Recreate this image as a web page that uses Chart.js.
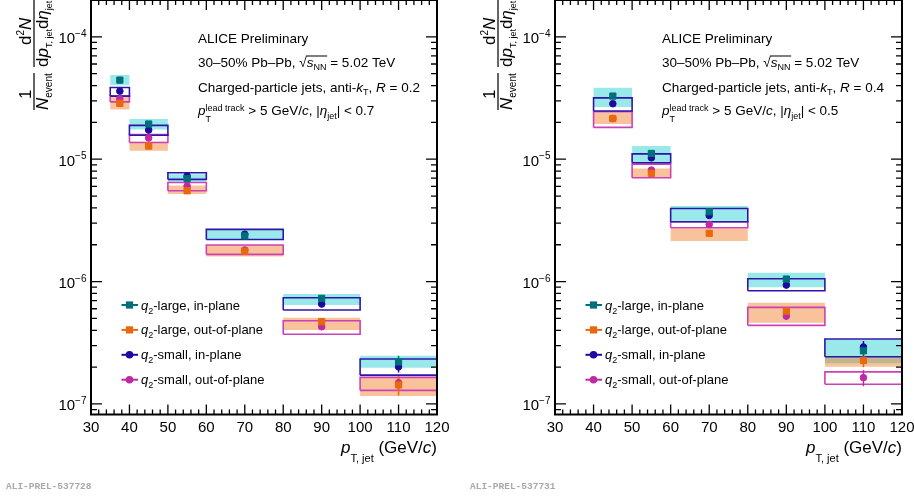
<!DOCTYPE html>
<html>
<head>
<meta charset="utf-8">
<script src="https://cdn.jsdelivr.net/npm/chart.js@4.4.1/dist/chart.umd.min.js"></script>
<style>
  html, body { margin: 0; padding: 0; background: #fff; }
  #wrap { position: relative; width: 914px; height: 499px; overflow: hidden; }
  canvas { position: absolute; top: 0; }
  #c02 { left: 0; }
  #c04 { left: 457px; }
</style>
</head>
<body>
<div id="wrap">
  <canvas id="c02" width="457" height="499"></canvas>
  <canvas id="c04" width="457" height="499"></canvas>
</div>
<script>
// jet pT bins (GeV/c)
var binLow02 = [35, 40, 50, 60, 80, 100];
var binHigh02 = [40, 50, 60, 80, 100, 120];
var ptCenter02 = [37.5, 45, 55, 70, 90, 110];
var binLow04 = [40, 50, 60, 80, 100];
var binHigh04 = [50, 60, 80, 100, 120];
var ptCenter04 = [45, 55, 70, 90, 110];

// R = 0.2 : values, systematic box low / high, relative stat. error
var largeIn02 = [4.43e-5, 1.94e-5, 6.95e-6, 2.36e-6, 7.29e-7, 2.21e-7];
var largeIn02Lo = [4.03e-5, 1.75e-5, 6.55e-6, 2.21e-6, 6.43e-7, 1.98e-7];
var largeIn02Hi = [4.87e-5, 2.13e-5, 7.55e-6, 2.64e-6, 7.91e-7, 2.48e-7];
var largeIn02Stat = [0.02, 0.02, 0.02, 0.03, 0.05, 0.12];

var largeOut02 = [2.86e-5, 1.28e-5, 5.52e-6, 1.77e-6, 4.70e-7, 1.43e-7];
var largeOut02Lo = [2.55e-5, 1.17e-5, 5.19e-6, 1.60e-6, 4.02e-7, 1.16e-7];
var largeOut02Hi = [3.24e-5, 1.39e-5, 6.11e-6, 1.99e-6, 5.06e-7, 1.67e-7];
var largeOut02Stat = [0.02, 0.02, 0.02, 0.03, 0.07, 0.18];

var smallIn02 = [3.60e-5, 1.73e-5, 7.28e-6, 2.44e-6, 6.55e-7, 2.01e-7];
var smallIn02Lo = [3.28e-5, 1.57e-5, 6.84e-6, 2.21e-6, 5.85e-7, 1.72e-7];
var smallIn02Hi = [3.86e-5, 1.89e-5, 7.74e-6, 2.67e-6, 7.38e-7, 2.33e-7];
var smallIn02Stat = [0.02, 0.02, 0.02, 0.03, 0.05, 0.10];

var smallOut02 = [3.11e-5, 1.49e-5, 6.03e-6, 1.81e-6, 4.27e-7, 1.49e-7];
var smallOut02Lo = [2.94e-5, 1.37e-5, 5.52e-6, 1.67e-6, 3.71e-7, 1.29e-7];
var smallOut02Hi = [3.28e-5, 1.59e-5, 6.46e-6, 1.99e-6, 4.79e-7, 1.65e-7];
var smallOut02Stat = [0.02, 0.02, 0.02, 0.03, 0.06, 0.12];

// R = 0.4
var largeIn04 = [3.28e-5, 1.115e-5, 3.72e-6, 1.048e-6, 2.72e-7];
var largeIn04Lo = [2.67e-5, 9.35e-6, 3.14e-6, 8.97e-7, 2.15e-7];
var largeIn04Hi = [3.83e-5, 1.28e-5, 4.14e-6, 1.18e-6, 3.37e-7];
var largeIn04Stat = [0.02, 0.02, 0.03, 0.05, 0.12];

var largeOut04 = [2.15e-5, 7.66e-6, 2.48e-6, 5.74e-7, 2.27e-7];
var largeOut04Lo = [1.94e-5, 7.05e-6, 2.15e-6, 4.61e-7, 2.01e-7];
var largeOut04Hi = [2.41e-5, 8.41e-6, 2.72e-6, 6.71e-7, 2.43e-7];
var largeOut04Stat = [0.02, 0.02, 0.03, 0.06, 0.12];

var smallIn04 = [2.84e-5, 1.026e-5, 3.47e-6, 9.36e-7, 2.92e-7];
var smallIn04Lo = [2.48e-5, 9.35e-6, 3.08e-6, 8.41e-7, 2.43e-7];
var smallIn04Hi = [3.17e-5, 1.106e-5, 3.96e-6, 1.054e-6, 3.39e-7];
var smallIn04Stat = [0.02, 0.02, 0.03, 0.05, 0.12];

var smallOut04 = [2.15e-5, 8.15e-6, 2.93e-6, 5.22e-7, 1.64e-7];
var smallOut04Lo = [1.82e-5, 7.05e-6, 2.75e-6, 4.39e-7, 1.45e-7];
var smallOut04Hi = [2.44e-5, 9.12e-6, 3.08e-6, 6.15e-7, 1.83e-7];
var smallOut04Stat = [0.02, 0.02, 0.03, 0.07, 0.15];

// axes
var xTicks = [30, 40, 50, 60, 70, 80, 90, 100, 110, 120];
var yDecades = [-7, -6, -5, -4];
var legendNames = ['-large, in-plane', '-large, out-of-plane', '-small, in-plane', '-small, out-of-plane'];

var FF = '"Liberation Sans", Arial, Helvetica, sans-serif';
function fnt(size, italic) {
    return (italic ? 'italic ' : '') + size + 'px ' + FF;
}

// draws text pieces one after another: [text, font, dy]
function rich(ctx, x, y, parts, align) {
    var w = 0;
    parts.forEach(function (p) { ctx.font = p[1]; w += ctx.measureText(p[0]).width; });
    var cx = align === 'right' ? x - w : (align === 'center' ? x - w / 2 : x);
    var start = cx;
    ctx.textAlign = 'left';
    parts.forEach(function (p) {
        ctx.font = p[1];
        ctx.fillText(p[0], cx, y + (p[2] || 0));
        cx += ctx.measureText(p[0]).width;
    });
    return {start: start, end: cx};
}

var styles = [
    {color: '#006f7a', point: 'rect', radius: 4.4, box: 'fill', boxColor: 'rgba(0,200,205,0.40)', order: 5},
    {color: '#e8690c', point: 'rect', radius: 4.4, box: 'fill', boxColor: 'rgba(240,120,30,0.45)', order: 4},
    {color: '#1f08a0', point: 'circle', radius: 3.3, box: 'line', boxColor: '#2c16aa', order: 3},
    {color: '#bf2aa3', point: 'circle', radius: 3.3, box: 'line', boxColor: '#cc40b8', order: 3}
];

function buildDatasets(xc, xl, xh, series) {
    var ds = [];
    series.forEach(function (s, k) {
        var st = styles[k];
        var box = [], err = [], pts = [];
        for (var i = 0; i < xc.length; i++) {
            if (st.box === 'fill') {
                box.push({x: xl[i], y: s.hi[i]}, {x: xl[i], y: s.lo[i]}, {x: xh[i], y: s.lo[i]}, {x: xh[i], y: s.hi[i]}, {x: xh[i], y: null});
            } else {
                box.push({x: xl[i], y: s.lo[i]}, {x: xh[i], y: s.lo[i]}, {x: xh[i], y: s.hi[i]}, {x: xl[i], y: s.hi[i]}, {x: xl[i], y: s.lo[i]}, {x: xl[i], y: null});
            }
            err.push({x: xc[i], y: s.val[i] * (1 - s.stat[i])}, {x: xc[i], y: s.val[i] * (1 + s.stat[i])}, {x: xc[i], y: null});
            pts.push({x: xc[i], y: s.val[i]});
        }
        if (st.box === 'fill') {
            ds.push({type: 'line', data: box, showLine: true, spanGaps: false, pointRadius: 0, fill: 'shape',
                backgroundColor: st.boxColor, borderColor: 'rgba(0,0,0,0)', borderWidth: 1, order: st.order});
        } else {
            ds.push({type: 'line', data: box, showLine: true, spanGaps: false, pointRadius: 0, fill: false,
                borderColor: st.boxColor, borderWidth: 1.6, order: st.order});
        }
        ds.push({type: 'line', data: err, showLine: true, spanGaps: false, pointRadius: 0, fill: false,
            borderColor: st.color, borderWidth: 1.5, order: 1});
        ds.push({type: 'scatter', data: pts, pointStyle: st.point, pointRadius: st.radius,
            backgroundColor: st.color, borderColor: st.color, borderWidth: 1, order: 0});
    });
    return ds;
}

var alicePlugin = {
    id: 'alice',
    afterDraw: function (chart, args, o) {
        var ctx = chart.ctx, a = chart.chartArea, xs = chart.scales.x, ys = chart.scales.y;
        var i, px, py;
        ctx.save();
        ctx.fillStyle = '#000';
        ctx.strokeStyle = '#000';

        // ticks, inside the frame
        ctx.lineWidth = 1.3;
        ctx.beginPath();
        for (var v = 30; v <= 120; v += 2) {
            px = xs.getPixelForValue(v);
            var len = v % 10 === 0 ? 10 : 5;
            ctx.moveTo(px, a.bottom); ctx.lineTo(px, a.bottom - len);
            ctx.moveTo(px, a.top); ctx.lineTo(px, a.top + len);
        }
        for (var e = -8; e <= -4; e++) {
            for (var m = 1; m <= 9; m++) {
                var val = m * Math.pow(10, e);
                if (val < ys.min * 0.999 || val > ys.max * 1.001) continue;
                py = ys.getPixelForValue(val);
                var l2 = m === 1 ? 11 : 6;
                ctx.moveTo(a.left, py); ctx.lineTo(a.left + l2, py);
                ctx.moveTo(a.right, py); ctx.lineTo(a.right - l2, py);
            }
        }
        ctx.stroke();

        // frame
        ctx.lineWidth = 2;
        ctx.strokeRect(a.left, a.top, a.right - a.left, a.bottom - a.top);

        // tick labels
        xTicks.forEach(function (t) {
            rich(ctx, xs.getPixelForValue(t), a.bottom + 17, [[String(t), fnt(15)]], 'center');
        });
        yDecades.forEach(function (d) {
            py = ys.getPixelForValue(Math.pow(10, d));
            rich(ctx, a.left - 4.5, py + 6.5, [['10', fnt(15)], ['\u2212' + (-d), fnt(10), -6.5]], 'right');
        });

        // x title
        rich(ctx, a.right, a.bottom + 38.5, [['p', fnt(17, true)], ['T, jet', fnt(11), 8.5], [' (GeV/', fnt(17)], ['c', fnt(17, true)], [')', fnt(17)]], 'right');

        // y title (rotated)
        ctx.save();
        ctx.translate(a.left - 57, 112);
        ctx.rotate(-Math.PI / 2);
        rich(ctx, 13, -3, [['1', fnt(17)]]);
        ctx.fillRect(2, -0.6, 37, 1.2);
        rich(ctx, 2, 14, [['N', fnt(17, true)], ['event', fnt(10), 3.5]]);
        rich(ctx, 67, -3, [['d', fnt(17)], ['2', fnt(10), -7], ['N', fnt(17, true)]]);
        ctx.fillRect(45, -0.6, 200, 1.2);
        rich(ctx, 45, 14, [['d', fnt(17)], ['p', fnt(17, true)], ['T, jet', fnt(9), 4], ['d', fnt(17)], ['\u03B7', fnt(17, true)], ['jet', fnt(9), 4]]);
        ctx.restore();

        // labels
        var x0 = a.left + 107;
        rich(ctx, x0, 42.5, [['ALICE Preliminary', fnt(13.5)]]);
        var r1 = rich(ctx, x0, 66.5, [['30\u201350% Pb\u2013Pb, ', fnt(13.5)], ['\u221A', fnt(13.5)]]);
        ctx.font = fnt(13.5);
        var topY = 66.5 - ctx.measureText('\u221A').actualBoundingBoxAscent;
        var r2 = rich(ctx, r1.end, 66.5, [['s', fnt(13.5, true)], ['NN', fnt(9), 3]]);
        ctx.fillRect(r1.end - 0.8, topY, r2.end - r1.end + 1.5, 1);
        rich(ctx, r2.end, 66.5, [[' = 5.02 TeV', fnt(13.5)]]);
        rich(ctx, x0, 91.5, [['Charged-particle jets, anti-', fnt(13.5)], ['k', fnt(13.5, true)], ['T', fnt(9), 3], [', ', fnt(13.5)], ['R', fnt(13.5, true)], [' = ' + o.radius, fnt(13.5)]]);
        rich(ctx, x0, 115, [['p', fnt(13.5, true)], ['lead track', fnt(9), -4.5]]);
        ctx.font = fnt(13.5, true);
        var pw = ctx.measureText('p').width;
        rich(ctx, x0 + pw, 115, [['T', fnt(9), 6.5]]);
        ctx.font = fnt(9);
        var lw = ctx.measureText('lead track').width;
        rich(ctx, x0 + pw + lw, 115, [[' > 5 GeV/', fnt(13.5)], ['c', fnt(13.5, true)], [', |', fnt(13.5)], ['\u03B7', fnt(13.5, true)], ['jet', fnt(9), 3.5], ['| < ' + o.eta, fnt(13.5)]]);

        // legend
        for (i = 0; i < 4; i++) {
            var st = styles[i];
            var cy = 305 + i * 24.9;
            var mx = a.left + 38.5;
            ctx.strokeStyle = st.color;
            ctx.lineWidth = 2;
            ctx.beginPath();
            ctx.moveTo(a.left + 30.5, cy); ctx.lineTo(a.left + 47, cy);
            ctx.stroke();
            ctx.fillStyle = st.color;
            if (st.point === 'rect') {
                ctx.fillRect(mx - 3.6, cy - 3.6, 7.2, 7.2);
            } else {
                ctx.beginPath(); ctx.arc(mx, cy, 3.8, 0, Math.PI * 2); ctx.fill();
            }
            ctx.fillStyle = '#000';
            rich(ctx, a.left + 50, cy + 4.5, [['q', fnt(13, true)], ['2', fnt(9), 4], [legendNames[i], fnt(13)]]);
        }

        // watermark
        ctx.fillStyle = '#a8a8a8';
        rich(ctx, o.tagX, 488.5, [[o.tag, 'bold 9.5px "Liberation Mono", "DejaVu Sans Mono", monospace']]);
        ctx.restore();
    }
};

function makePanel(id, padLeft, padRight, datasets, info) {
    return new Chart(document.getElementById(id), {
        type: 'scatter',
        data: {datasets: datasets},
        options: {
            responsive: false,
            animation: false,
            devicePixelRatio: 1,
            events: [],
            layout: {autoPadding: false, padding: {left: padLeft, right: padRight, top: 0, bottom: 84.5}},
            scales: {
                x: {type: 'linear', min: 30, max: 120, display: false},
                y: {type: 'logarithmic', min: 8.2e-8, max: 2e-4, display: false}
            },
            plugins: {
                legend: {display: false},
                tooltip: {enabled: false},
                alice: info
            }
        },
        plugins: [alicePlugin]
    });
}

makePanel('c02', 91, 20, buildDatasets(ptCenter02, binLow02, binHigh02, [
    {val: largeIn02, lo: largeIn02Lo, hi: largeIn02Hi, stat: largeIn02Stat},
    {val: largeOut02, lo: largeOut02Lo, hi: largeOut02Hi, stat: largeOut02Stat},
    {val: smallIn02, lo: smallIn02Lo, hi: smallIn02Hi, stat: smallIn02Stat},
    {val: smallOut02, lo: smallOut02Lo, hi: smallOut02Hi, stat: smallOut02Stat}
]), {radius: '0.2', eta: '0.7', tag: 'ALI-PREL-537728', tagX: 6});

makePanel('c04', 98, 12, buildDatasets(ptCenter04, binLow04, binHigh04, [
    {val: largeIn04, lo: largeIn04Lo, hi: largeIn04Hi, stat: largeIn04Stat},
    {val: largeOut04, lo: largeOut04Lo, hi: largeOut04Hi, stat: largeOut04Stat},
    {val: smallIn04, lo: smallIn04Lo, hi: smallIn04Hi, stat: smallIn04Stat},
    {val: smallOut04, lo: smallOut04Lo, hi: smallOut04Hi, stat: smallOut04Stat}
]), {radius: '0.4', eta: '0.5', tag: 'ALI-PREL-537731', tagX: 13});
</script>
</body>
</html>
